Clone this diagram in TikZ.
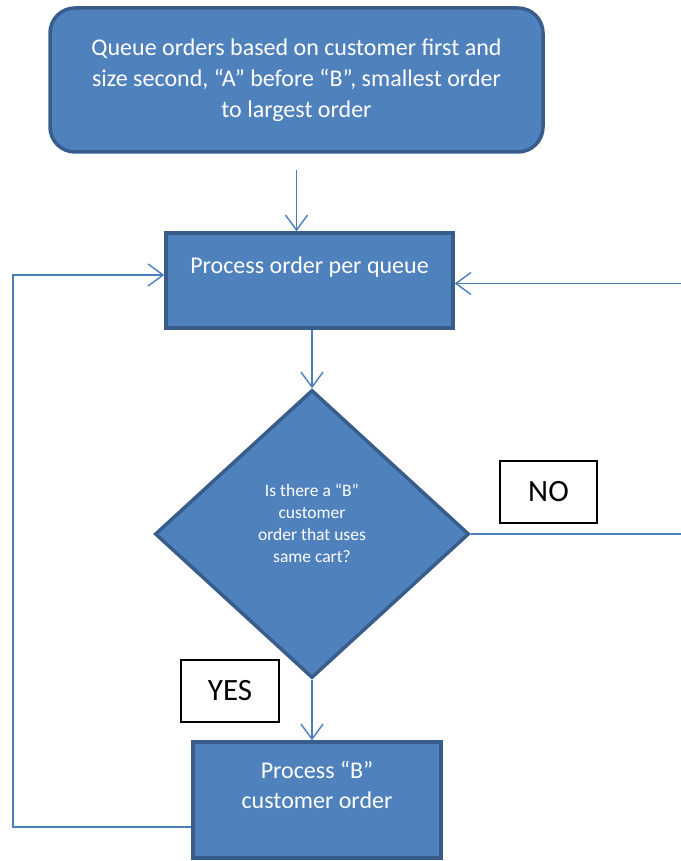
\documentclass[tikz,border=0pt]{standalone}
\usepackage{fontspec}
\setmainfont{Carlito}
\usetikzlibrary{shapes.geometric, arrows.meta}
\definecolor{officeblue}{HTML}{4F81BD}
\definecolor{officeedge}{HTML}{385D8A}
\definecolor{linkblue}{HTML}{4A7EBB}
\begin{document}
\begin{tikzpicture}[x=1pt, y=-1pt,
    block/.style={draw=officeedge, fill=officeblue, line width=3.5pt, text=white, align=center, inner sep=0pt},
    tag/.style={draw=black, line width=1.1pt, fill=white, inner sep=0pt, minimum height=62pt, font=\fontsize{31}{36}\selectfont},
    link/.style={draw=linkblue, line width=1.4pt},
    >={Straight Barb[length=15pt, width=22pt]}]
    \useasboundingbox (0,0) rectangle (680,861);
    \node (queue) at (296.5,80) [block, rounded corners=25pt, minimum width=493pt, minimum height=144pt, font=\fontsize{24}{31}\selectfont] {Queue orders based on customer first and\\ size second, “A” before “B”, smallest order\\ to largest order};
    \node (procq) at (309.5,280.5) [block, minimum width=287pt, minimum height=95pt, font=\fontsize{24}{30}\selectfont] {Process order per queue\\ \mbox{}};
    \node (decide) at (312,534) [block, diamond, minimum width=314pt, minimum height=288pt, font=\fontsize{17.5}{22}\selectfont] {Is there a “B”\\ customer\\ order that uses\\ same cart?\\ \mbox{}};
    \node (procb) at (317,800) [block, minimum width=248pt, minimum height=116pt, font=\fontsize{24}{30}\selectfont] {Process “B”\\ customer order\\ \mbox{}};
    \node (no) at (548.5,492) [tag, minimum width=97pt] {NO};
    \node (yes) at (230,691) [tag, minimum width=98pt] {YES};
    % connectors
    \coordinate (rightedge) at (688,534);
    \coordinate (leftedge) at (13,827);
    \draw [->, link] ([yshift=-16pt]queue.south) -- (queue.south |- procq.north);
    \draw [->, link] (decide.north |- procq.south) -- (decide.north);
    \draw [->, link] (decide.east) -- (rightedge) |- ([yshift=-3pt]procq.east);
    \draw [->, link] (decide.south) -- (decide.south |- procb.north);
    \draw [->, link] ([yshift=-27pt]procb.west) -- (leftedge) |- ([yshift=5.5pt]procq.west);
\end{tikzpicture}
\end{document}
